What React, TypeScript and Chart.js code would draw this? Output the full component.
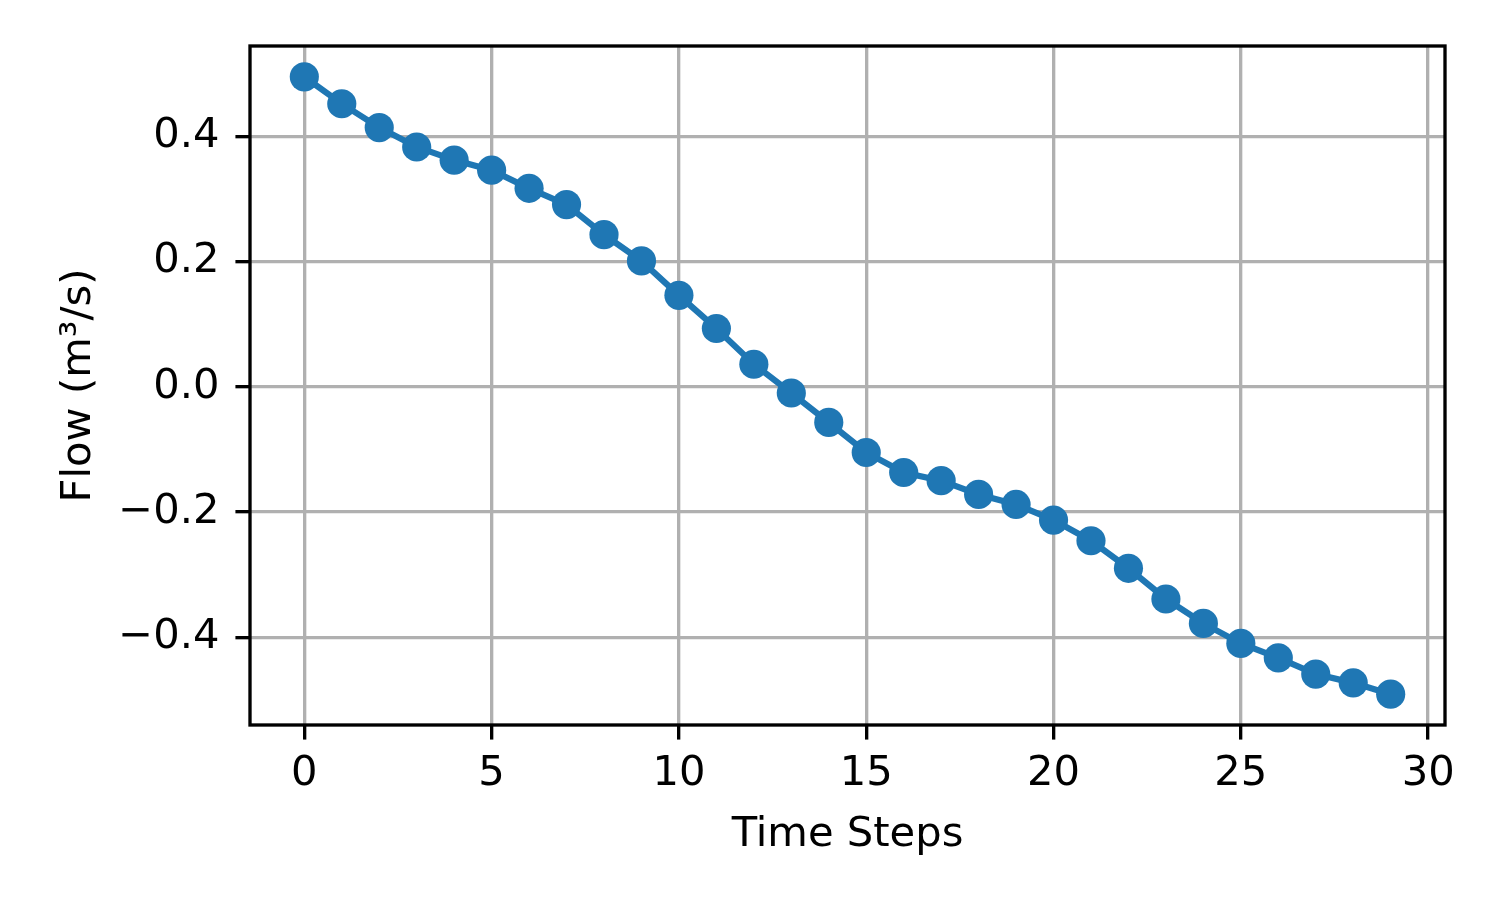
import React, { useEffect, useRef } from "react";
import { Chart, registerables } from "chart.js";

Chart.register(...registerables);

const steps = [0, 1, 2, 3, 4, 5, 6, 7, 8, 9, 10, 11, 12, 13, 14, 15, 16, 17, 18, 19, 20, 21, 22, 23, 24, 25, 26, 27, 28, 29];
const flow = [
  0.495, 0.452, 0.414, 0.383, 0.362, 0.346, 0.317, 0.291, 0.243, 0.201,
  0.146, 0.093, 0.036, -0.010, -0.057, -0.105, -0.137, -0.150, -0.172, -0.188,
  -0.213, -0.246, -0.290, -0.339, -0.378, -0.410, -0.433, -0.459, -0.473, -0.491,
];
const xTicks = [0, 5, 10, 15, 20, 25, 30];
const yTicks = [-0.4, -0.2, 0.0, 0.2, 0.4];
const xLabel = "Time Steps";
const yLabel = "Flow (m\u00B3/s)";

const PT = 300 / 72;
const FONT = { family: "'DejaVu Sans', sans-serif", size: 10 * PT };

export default function App() {
  const ref = useRef<HTMLCanvasElement | null>(null);
  useEffect(() => {
    document.body.style.margin = "0";
    const canvas = ref.current;
    if (!canvas) return;
    const xmin = Math.min(...steps), xmax = Math.max(...steps);
    const ymin = Math.min(...flow), ymax = Math.max(...flow);
    const xm = (xmax - xmin) * 0.05, ym = (ymax - ymin) * 0.05;

    const frame = {
      id: "frame",
      afterDatasetsDraw(chart: any) {
        const { ctx, chartArea: a } = chart;
        ctx.save();
        ctx.strokeStyle = "#000";
        ctx.lineWidth = 0.8 * PT;
        ctx.lineJoin = "miter";
        ctx.strokeRect(a.left, a.top, a.right - a.left, a.bottom - a.top);
        ctx.restore();
      },
    };

    const chart = new Chart(canvas, {
      type: "line",
      data: {
        datasets: [
          {
            data: steps.map((s, i) => ({ x: s, y: flow[i] })),
            borderColor: "#1f77b4",
            backgroundColor: "#1f77b4",
            borderWidth: 1.5 * PT,
            pointRadius: 3.5 * PT,
            pointHoverRadius: 3.5 * PT,
            pointBackgroundColor: "#1f77b4",
            pointBorderWidth: 0,
            tension: 0,
            fill: false,
            clip: false as any,
          },
        ],
      },
      options: {
        animation: false,
        responsive: false,
        devicePixelRatio: 1,
        events: [],
        layout: { padding: { top: 46, right: 55, left: 0, bottom: 0 } },
        plugins: { legend: { display: false }, tooltip: { enabled: false } },
        scales: {
          x: {
            type: "linear",
            min: xmin - xm,
            max: xmax + xm,
            afterFit: (s: any) => { s.height = 175; },
            afterBuildTicks: (s: any) => { s.ticks = xTicks.map((v) => ({ value: v })); },
            grid: {
              color: "#b0b0b0",
              lineWidth: 0.8 * PT,
              tickColor: "#000",
              tickWidth: 0.8 * PT,
              tickLength: 3.5 * PT,
              drawTicks: true,
            } as any,
            border: { display: false },
            ticks: {
              font: FONT,
              color: "#000",
              padding: 10,
              maxRotation: 0,
              autoSkip: false,
              callback: (v: any) => String(v),
            },
            title: {
              display: true,
              text: xLabel,
              font: FONT,
              color: "#000",
              padding: { top: 0, bottom: 40 },
            },
          },
          y: {
            type: "linear",
            min: ymin - ym,
            max: ymax + ym,
            afterFit: (s: any) => { s.width = 250; },
            afterBuildTicks: (s: any) => { s.ticks = yTicks.map((v) => ({ value: v })); },
            grid: {
              color: "#b0b0b0",
              lineWidth: 0.8 * PT,
              tickColor: "#000",
              tickWidth: 0.8 * PT,
              tickLength: 3.5 * PT,
              drawTicks: true,
            } as any,
            border: { display: false },
            ticks: {
              font: FONT,
              color: "#000",
              padding: 16,
              autoSkip: false,
              callback: (v: any) => (v < 0 ? "\u2212" : "") + Math.abs(v).toFixed(1),
            },
            title: {
              display: true,
              text: yLabel,
              font: FONT,
              color: "#000",
              padding: { top: 54, bottom: 0 },
            },
          },
        },
      },
      plugins: [frame],
    });
    return () => chart.destroy();
  }, []);
  return <canvas ref={ref} width={1500} height={900} style={{ display: "block" }} />;
}
